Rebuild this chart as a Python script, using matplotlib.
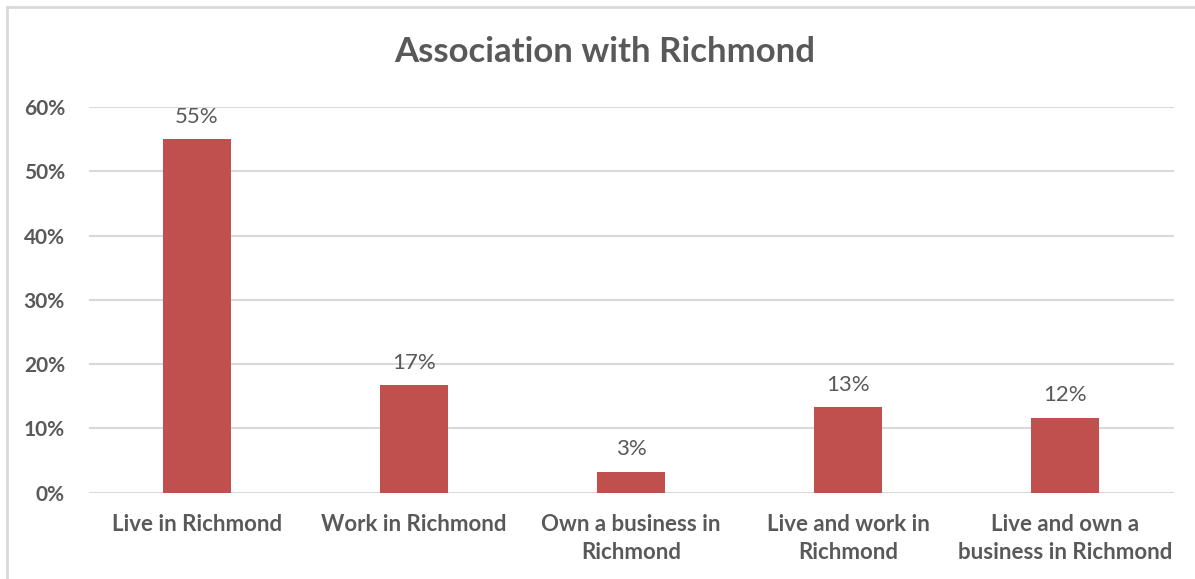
import matplotlib
matplotlib.use('Agg')
from matplotlib import pyplot as plt
from matplotlib.lines import Line2D
from matplotlib.ticker import PercentFormatter

categories = ['Live in Richmond', 'Work in Richmond', 'Own a business in\nRichmond',
              'Live and work in\nRichmond', 'Live and own a\nbusiness in Richmond']
shares = [0.55, 0.167, 0.033, 0.133, 0.117]
labels = ['55%', '17%', '3%', '13%', '12%']

bar_color = '#C0504D'
text_color = '#595959'
grid_color = '#D9D9D9'

plt.rcParams['font.family'] = ['Lato', 'DejaVu Sans']

fig = plt.figure(figsize=(11.95, 5.79), dpi=100)
ax = fig.add_axes([0.0741, 0.149, 0.908, 0.666])

x = range(len(categories))
bars = ax.bar(x, shares, width=0.31, color=bar_color)
for b, lab in zip(bars, labels):
    ax.annotate(lab, (b.get_x() + b.get_width() / 2, b.get_height()),
                xytext=(0, 9), textcoords='offset points', ha='center', va='bottom',
                fontsize=16, color=text_color)

ax.set_xlim(-0.5, len(categories) - 0.5)
ax.set_ylim(0, 0.6)
ax.set_yticks([0, 0.1, 0.2, 0.3, 0.4, 0.5, 0.6])
ax.yaxis.set_major_formatter(PercentFormatter(1.0, decimals=0))
ax.set_xticks(list(x))
ax.set_xticklabels(categories, fontsize=16, fontweight='bold', color=text_color, linespacing=1.45)
for t in ax.get_yticklabels():
    t.set_fontsize(15)
    t.set_fontweight('bold')
    t.set_color(text_color)
ax.tick_params(length=0)
ax.tick_params(axis='x', pad=15)
ax.tick_params(axis='y', pad=17)

ax.grid(axis='y', color=grid_color, linewidth=1.5)
ax.set_axisbelow(True)
for s in ax.spines.values():
    s.set_visible(False)

fig.text(0.506, 0.91, 'Association with Richmond', ha='center', va='center',
         fontsize=25, fontweight='bold', color=text_color)

# chart frame (only left and top edges visible in the crop)
fig.add_artist(Line2D([7 / 1195, 7 / 1195], [0, 1 - 7 / 579], color=grid_color, linewidth=2))
fig.add_artist(Line2D([7 / 1195, 1], [1 - 7 / 579, 1 - 7 / 579], color=grid_color, linewidth=2))

fig.savefig('out.png', dpi=100)
